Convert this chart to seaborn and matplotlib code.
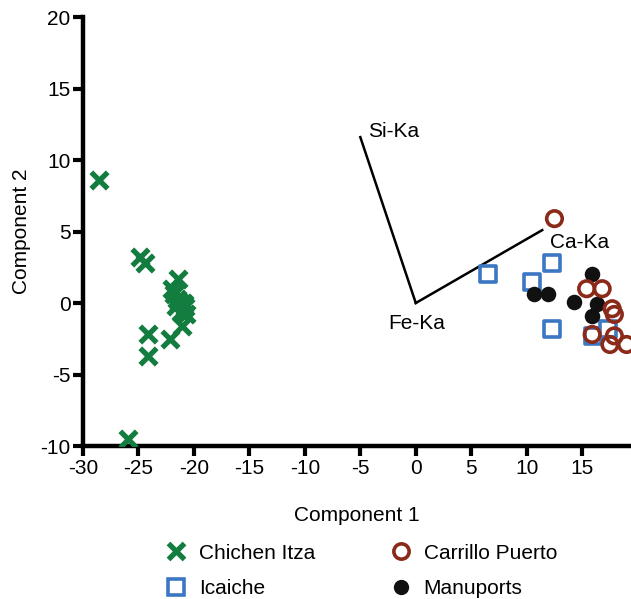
import pandas as pd
import seaborn as sns
import matplotlib.pyplot as plt
from matplotlib.lines import Line2D

# PCA scores
chichen_x = [-28.6, -24.9, -24.4, -21.4, -22.0, -21.8, -21.5, -21.0, -20.8, -21.2,
             -20.7, -21.3, -21.6, -20.9, -21.1, -24.1, -22.2, -24.1, -25.9]
chichen_y = [8.6, 3.2, 2.8, 1.7, 1.0, 0.6, 0.3, 0.0, -0.3, -0.6,
             -0.8, 0.1, -0.2, -0.1, -1.6, -2.2, -2.5, -3.7, -9.5]
icaiche_x = [6.5, 12.3, 10.5, 12.3, 16.0, 17.3]
icaiche_y = [2.0, 2.8, 1.5, -1.8, -2.3, -1.8]
carrillo_x = [12.5, 15.4, 16.8, 17.7, 17.9, 15.9, 17.9, 17.5, 19.0]
carrillo_y = [5.9, 1.0, 1.0, -0.4, -0.8, -2.2, -2.3, -2.9, -2.9]
manu_x = [10.7, 11.9, 14.3, 15.9, 16.3, 15.9]
manu_y = [0.6, 0.6, 0.1, 2.0, -0.1, -0.9]

# loading vectors
loadings = ["Si-Ka", "Ca-Ka"]
load_x = [-5.0, 11.4]
load_y = [11.6, 5.1]

green = "#137c3f"
blue = "#3b77c2"
red = "#8c2a1a"

plt.rcParams["font.family"] = ["Liberation Sans", "DejaVu Sans"]
plt.rcParams["axes.unicode_minus"] = False
fig = plt.figure(figsize=(6.31, 5.99), dpi=100)
ax = fig.add_axes([0.1315, 0.2554, 0.8685, 0.7162])

# biplot lines from origin
for lx, ly in zip(load_x, load_y):
    ax.plot([0, lx], [0, ly], color="black", lw=1.8, zorder=1)
ax.text(-4.3, 12.0, "Si-Ka", fontsize=15, va="center", ha="left")
ax.text(0.1, -1.45, "Fe-Ka", fontsize=15, va="center", ha="center")
ax.text(12.1, 4.2, "Ca-Ka", fontsize=15, va="center", ha="left")

sns.scatterplot(x=chichen_x, y=chichen_y, marker="x", s=140, color=green,
                linewidth=3.8, ax=ax, zorder=3)
sns.scatterplot(x=icaiche_x, y=icaiche_y, marker="s", s=125, facecolor="white",
                edgecolor=blue, linewidth=2.6, ax=ax, zorder=3)
sns.scatterplot(x=manu_x, y=manu_y, marker="o", s=125, color="#111111",
                edgecolor="#111111", linewidth=0, ax=ax, zorder=4)
sns.scatterplot(x=carrillo_x, y=carrillo_y, marker="o", s=125, facecolor="none",
                edgecolor=red, linewidth=2.6, ax=ax, zorder=5)

ax.set_xlim(-30, 19.4)
ax.set_ylim(-10, 20)
ax.set_xticks(range(-30, 20, 5))
ax.set_yticks(range(-10, 21, 5))
ax.tick_params(labelsize=15, width=3, length=7, direction="out", pad=2)
for side in ["top", "right"]:
    ax.spines[side].set_visible(False)
for side in ["left", "bottom"]:
    ax.spines[side].set_linewidth(3.2)
ax.set_xlabel("Component 1", fontsize=15)
ax.set_ylabel("Component 2", fontsize=15)
ax.xaxis.set_label_coords(0.5, -0.14)
ax.yaxis.set_label_coords(-0.095, 0.5)

handles = [
    Line2D([], [], ls="", marker="x", color=green, ms=11, mew=3.8),
    Line2D([], [], ls="", marker="s", mfc="white", mec=blue, ms=11, mew=2.6),
    Line2D([], [], ls="", marker="o", mfc="white", mec=red, ms=11, mew=2.6),
    Line2D([], [], ls="", marker="o", color="#111111", ms=10),
]
labels = ["Chichen Itza", "Icaiche", "Carrillo Puerto", "Manuports"]
fig.legend(handles, labels, ncol=2, loc="lower left", bbox_to_anchor=(0.233, -0.03),
           frameon=False, fontsize=15, columnspacing=3.6, handletextpad=0.6,
           labelspacing=0.8, handlelength=1.0)

fig.savefig("out.png", dpi=100)
